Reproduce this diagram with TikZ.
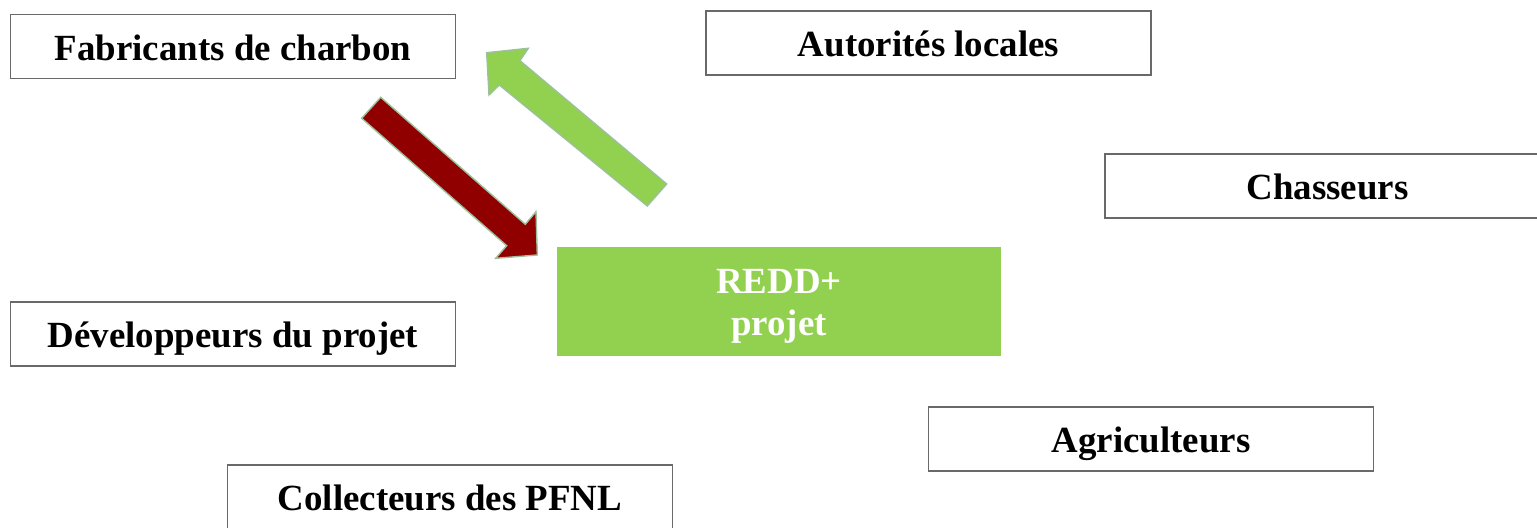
\documentclass[tikz,border=0pt]{standalone}
\usepackage{fontspec}
\setmainfont{Liberation Serif}
\definecolor{boxgray}{RGB}{105,105,105}
\definecolor{leafgreen}{RGB}{146,208,80}
\definecolor{darkred}{RGB}{144,0,0}
\definecolor{rimgreen}{RGB}{155,192,155}
\begin{document}
\begin{tikzpicture}[x=0.2mm,y=-0.2mm,
   every node/.style={font=\fontsize{21}{24}\selectfont\bfseries},
   actor/.style={draw=boxgray,line width=0.9pt,minimum width=89mm,minimum height=12.8mm,
     inner sep=0pt,text height=20pt,text depth=4.6pt},
   blockarrow/.style={draw=rimgreen,line width=0.8pt,line join=miter}]
   \useasboundingbox (0,0) rectangle (1537,528);
   \node [actor] (fab) at (233,46.5) {Fabricants de charbon};
   \node [actor] (auth) at (928.5,43) {Autorités locales};
   \node [actor] (chas) at (1327.5,186) {Chasseurs};
   \node [actor] (dev) at (233,334) {Développeurs du projet};
   \node [actor] (agri) at (1151,439) {Agriculteurs};
   \node [actor] (coll) at (450,497) {Collecteurs des PFNL};
   \node [fill=leafgreen,text=white,align=center,minimum width=88.8mm,minimum height=21.8mm,
     inner sep=0pt] (redd) at (779,301.5) {\rule{0pt}{19.4pt}REDD+\\projet};
   % arrows between charcoal makers and the project
   \draw [blockarrow,fill=darkred] (361.7,118.3) -- (506.7,245.7) -- (495.7,258.3) -- (537.3,255)
     -- (536,211.7) -- (525.3,224.3) -- (380.7,97.3) -- cycle;
   \draw [blockarrow,fill=leafgreen] (666.7,184) -- (520,60.7) -- (528.3,48.3) -- (486.7,52.7)
     -- (489,95) -- (499.3,85) -- (647.3,206) -- cycle;
\end{tikzpicture}
\end{document}
